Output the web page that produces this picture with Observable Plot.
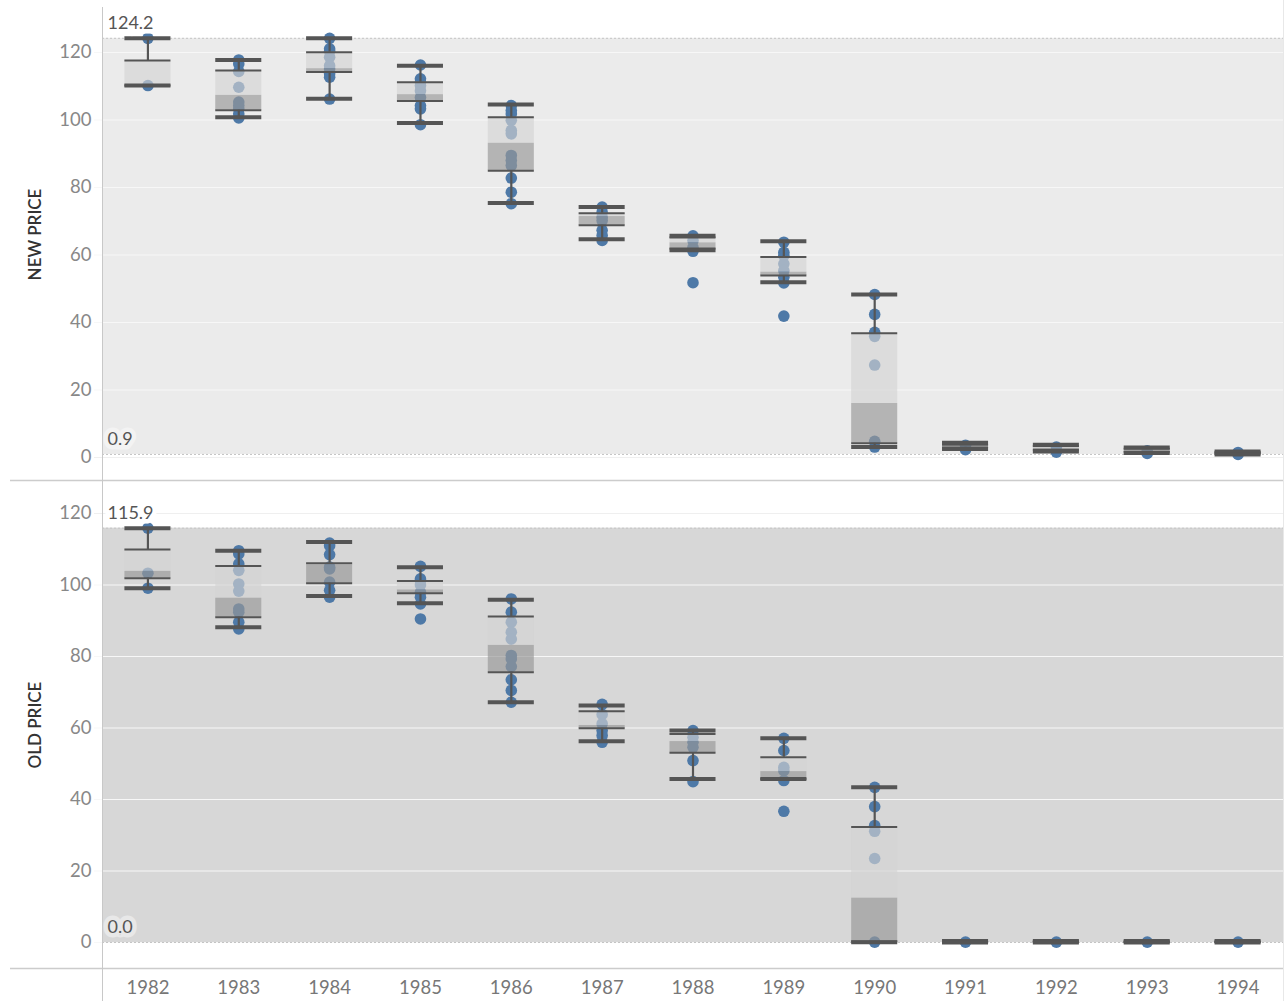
<!DOCTYPE html>
<html><head><meta charset="utf-8">
<script src="https://cdn.jsdelivr.net/npm/d3@7"></script>
<script src="https://cdn.jsdelivr.net/npm/@observablehq/plot@0.6"></script>
<style>
body{margin:0;background:#fff;font-family:Lato,"Open Sans",sans-serif}
#chart svg{display:block}
</style>
</head><body><div id="chart"></div>
<script>
const years = [1982,1983,1984,1985,1986,1987,1988,1989,1990,1991,1992,1993,1994];
const yTicks = [0,20,40,60,80,100,120];

// NEW PRICE individual values per year
const newPriceDots = [
  [124.2, 110.2],
  [117.8, 116.6, 114.4, 109.7, 105.3, 104.3, 103.3, 101.8, 100.6],
  [124.2, 121.1, 120.4, 118.6, 116.1, 115.1, 113.7, 112.7, 106.2],
  [116.3, 112.2, 111.2, 110.2, 108.7, 106.7, 104.3, 103.3, 98.6],
  [104.3, 102.8, 101.8, 99.9, 96.9, 95.9, 89.5, 88.0, 86.5, 82.8, 78.6, 75.2],
  [74.2, 72.7, 71.2, 70.2, 67.3, 65.8, 64.3],
  [65.7, 64.3, 62.3, 61.1, 51.8],
  [63.8, 60.8, 59.8, 57.4, 55.4, 53.4, 51.7, 41.9],
  [48.3, 42.4, 37.1, 35.9, 27.4, 4.8, 3.1],
  [3.6, 2.3],
  [3.1, 1.6],
  [2.0, 1.2],
  [1.5, 0.9]
];
// NEW PRICE box statistics
const newHigh   = [124.2, 117.8, 124.2, 116.1, 104.6, 74.2, 65.7, 64.1, 48.3, 4.4, 3.8, 3.0, 1.8];
const newQ3     = [117.6, 114.7, 120.1, 111.2, 100.8, 72.4, 65.2, 59.4, 36.8, 3.8, 3.4, 2.6, 1.6];
const newMedian = [110.2, 107.3, 115.2, 107.5, 93.1, 71.4, 63.6, 54.9, 16.0, 3.4, 2.8, 2.1, 1.3];
const newQ1     = [110.2, 102.9, 114.2, 105.6, 85.0, 68.8, 61.9, 53.9, 4.2, 3.0, 2.3, 1.7, 1.1];
const newLow    = [110.2, 100.8, 106.3, 99.1, 75.4, 64.7, 61.4, 51.9, 3.1, 2.5, 1.8, 1.3, 0.9];
const newRange  = [0.9, 124.2];

// OLD PRICE individual values per year
const oldPriceDots = [
  [115.9, 103.3, 99.1],
  [109.6, 108.7, 105.9, 104.1, 100.3, 98.3, 93.3, 92.4, 89.6, 87.7],
  [111.7, 111.0, 108.5, 105.0, 104.5, 100.8, 98.5, 96.6],
  [105.2, 101.7, 101.2, 100.0, 98.0, 96.6, 94.7, 90.5],
  [96.1, 92.4, 89.6, 86.8, 84.9, 80.3, 79.3, 77.2, 73.5, 70.5, 67.2],
  [66.6, 63.8, 61.2, 59.3, 57.9, 56.0],
  [59.3, 57.4, 56.0, 54.6, 50.9, 45.0],
  [57.1, 53.7, 49.0, 48.1, 45.3, 36.7],
  [43.4, 38.0, 32.7, 31.1, 23.5, 0.1],
  [0.1],
  [0.1],
  [0.1],
  [0.1]
];
// OLD PRICE box statistics
const oldHigh   = [115.9, 109.6, 112.0, 105.0, 95.9, 66.3, 59.3, 57.1, 43.4, 0.4, 0.4, 0.4, 0.4];
const oldQ3     = [109.9, 105.3, 106.1, 101.1, 91.2, 64.7, 58.3, 51.8, 32.3, 0.3, 0.3, 0.3, 0.3];
const oldMedian = [103.8, 96.3, 105.6, 98.6, 83.1, 60.7, 56.2, 47.8, 12.4, 0.2, 0.2, 0.2, 0.2];
const oldQ1     = [101.9, 91.0, 100.5, 97.7, 75.6, 59.9, 53.1, 45.7, 0.3, 0.1, 0.1, 0.1, 0.1];
const oldLow    = [99.1, 88.2, 96.9, 94.9, 67.2, 56.3, 45.7, 45.7, 0.1, 0.0, 0.0, 0.0, 0.0];
const oldRange  = [0.0, 115.9];

function panel({title, titleDy, dots, high, q3, median, q1, low, range, bandFill, labelBgTop, labelBgBottom, height, marginBottom, domain, showX, frameTop}) {
  const flat = years.flatMap((yr, i) => dots[i].map(v => ({year: yr, value: v})));
  const stats = years.map((yr, i) => ({year: yr, high: high[i], q3: q3[i], median: median[i], q1: q1[i], low: low[i]}));
  const inset = 22.4;
  const ink = "#555555";
  return Plot.plot({
    width: 1285,
    height,
    marginLeft: 102,
    marginRight: 2,
    marginTop: 0,
    marginBottom,
    style: {fontFamily: "Lato, 'Open Sans', sans-serif", background: "transparent", overflow: "visible"},
    x: {type: "band", domain: years, padding: 0, round: false, axis: null},
    y: {domain, axis: null},
    marks: [
      Plot.rect([range], {y1: d => d[0], y2: d => d[1], fill: bandFill}),
      Plot.ruleY(yTicks, {stroke: d => (d > range[1] || d < range[0]) ? "#efefef" : "#f7f7f7", insetLeft: -8, strokeWidth: 1}),
      Plot.axisY(yTicks, {tickSize: 0, tickPadding: 11, fill: "#888", fontSize: 18.5, label: null}),
      Plot.text([title], {frameAnchor: "left", textAnchor: "middle", dx: -67, dy: titleDy, rotate: -90, fontSize: 17, fontWeight: 600, fill: "#333"}),
      Plot.ruleY(range, {stroke: "#c4c4c4", strokeDasharray: "2,2"}),
      Plot.dot(flat, {x: "year", y: "value", r: 5.8, fill: "#4e79a7"}),
      Plot.barY(stats, {x: "year", y1: "median", y2: "q3", fill: "#d3d3d3", fillOpacity: 0.64, insetLeft: inset, insetRight: inset}),
      Plot.barY(stats, {x: "year", y1: "q1", y2: "median", fill: "#989898", fillOpacity: 0.66, insetLeft: inset, insetRight: inset}),
      Plot.ruleX(stats, {x: "year", y1: "q3", y2: "high", stroke: ink, strokeWidth: 2.2}),
      Plot.ruleX(stats, {x: "year", y1: "low", y2: "q1", stroke: ink, strokeWidth: 2.2}),
      Plot.tickY(stats, {x: "year", y: "q3", stroke: ink, strokeWidth: 2, insetLeft: inset, insetRight: inset}),
      Plot.tickY(stats, {x: "year", y: "q1", stroke: ink, strokeWidth: 2, insetLeft: inset, insetRight: inset}),
      Plot.tickY(stats, {x: "year", y: "high", stroke: ink, strokeWidth: 4, insetLeft: inset, insetRight: inset}),
      Plot.tickY(stats, {x: "year", y: "low", stroke: ink, strokeWidth: 4, insetLeft: inset, insetRight: inset}),
      Plot.text([range[1]], {frameAnchor: "left", y: d => d, text: d => d.toFixed(1), dx: 5, dy: -15, textAnchor: "start", fill: ink, fontSize: 18, stroke: labelBgTop, strokeWidth: 9, paintOrder: "stroke", strokeLinejoin: "miter"}),
      Plot.text([range[0]], {frameAnchor: "left", y: d => d, text: d => d.toFixed(1), dx: 5, dy: -15, textAnchor: "start", fill: ink, fontSize: 18, stroke: labelBgBottom, strokeWidth: 9, paintOrder: "stroke", strokeLinejoin: "miter"}),
      Plot.ruleY([domain[0]], {stroke: "#cccccc", insetLeft: -92, strokeWidth: 1.5}),
      Plot.frame({anchor: "left", stroke: "#c8c8c8", insetTop: frameTop, insetBottom: showX ? -marginBottom : 0}),
      Plot.frame({anchor: "right", stroke: "#e8e8e8", insetBottom: showX ? -marginBottom : 0}),
      showX ? Plot.axisX({tickSize: 0, tickPadding: 12, fill: "#777", fontSize: 18.5, label: null, tickFormat: d => String(d)}) : null
    ]
  });
}

// top panel: 0 -> 457px, 3.375 px per unit, plot area 0..480
const topPanel = panel({
  title: "NEW PRICE", titleDy: -6,
  dots: newPriceDots, high: newHigh, q3: newQ3, median: newMedian, q1: newQ1, low: newLow,
  range: newRange, bandFill: "#ebebeb", labelBgTop: "#ffffff", labelBgBottom: "#f3f3f3",
  height: 481, marginBottom: 1, domain: [-23 / 3.375, 457 / 3.375], showX: false, frameTop: 7
});
// bottom panel: local 0 -> 461px, 3.575 px per unit, plot area 0..487
const bottomPanel = panel({
  title: "OLD PRICE", titleDy: 0,
  dots: oldPriceDots, high: oldHigh, q3: oldQ3, median: oldMedian, q1: oldQ1, low: oldLow,
  range: oldRange, bandFill: "#d7d7d7", labelBgTop: "#ffffff", labelBgBottom: "#e8e8e8",
  height: 520, marginBottom: 33, domain: [-26 / 3.575, 461 / 3.575], showX: true, frameTop: 0
});
document.getElementById("chart").append(topPanel, bottomPanel);
</script>
</body></html>
